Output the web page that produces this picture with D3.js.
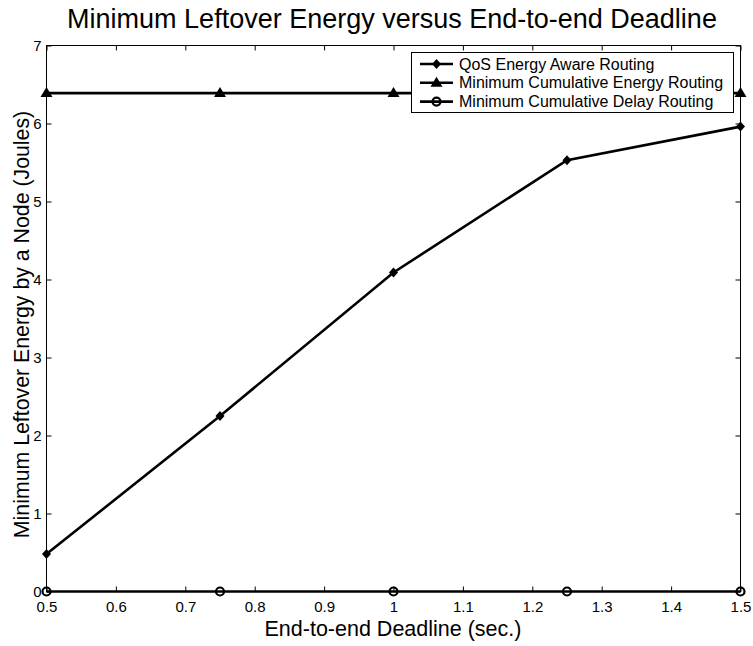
<!DOCTYPE html>
<html><head><meta charset="utf-8">
<script src="https://cdn.jsdelivr.net/npm/d3@7"></script>
<style>body{margin:0;background:#fff}svg{display:block}text{font-family:"Liberation Sans",Arial,sans-serif}</style>
</head><body>
<script>
const deadlines = [0.5, 0.75, 1.0, 1.25, 1.5];
const qosEnergy = [0.48, 2.25, 4.09, 5.53, 5.96];
const minCumEnergy = [6.39, 6.39, 6.39, 6.39, 6.39];
const minCumDelay = [0, 0, 0, 0, 0];
const xTicks = [0.5,0.6,0.7,0.8,0.9,1,1.1,1.2,1.3,1.4,1.5];
const yTicks = [0,1,2,3,4,5,6,7];
const seriesNames = ["QoS Energy Aware Routing","Minimum Cumulative Energy Routing","Minimum Cumulative Delay Routing"];
const markers = ["diamond","triangle","circle"];

const W=753,H=646;
const L=46.5,R=740.5,T=45.5,B=591.5;
const svg=d3.select("body").append("svg").attr("width",W).attr("height",H);
const x=d3.scaleLinear().domain([0.5,1.5]).range([L,R]);
const y=d3.scaleLinear().domain([0,7]).range([B,T]);

svg.append("rect").attr("x",L).attr("y",T).attr("width",R-L).attr("height",B-T).attr("fill","#fff").attr("stroke","#000").attr("stroke-width",1);

const tl=5;
const fmt=d=>String(d);
const ax1=svg.append("g").attr("transform",`translate(0,${B})`).call(d3.axisBottom(x).tickValues(xTicks).tickFormat(fmt).tickSizeInner(-tl).tickSizeOuter(0).tickPadding(10));
const ax2=svg.append("g").attr("transform",`translate(0,${T})`).call(d3.axisTop(x).tickValues(xTicks).tickFormat("").tickSizeInner(-tl).tickSizeOuter(0));
const ay1=svg.append("g").attr("transform",`translate(${L},0)`).call(d3.axisLeft(y).tickValues(yTicks).tickFormat(fmt).tickSizeInner(-tl).tickSizeOuter(0).tickPadding(5));
const ay2=svg.append("g").attr("transform",`translate(${R},0)`).call(d3.axisRight(y).tickValues(yTicks).tickFormat("").tickSizeInner(-tl).tickSizeOuter(0));
[ax1,ax2,ay1,ay2].forEach(a=>{a.select(".domain").remove();a.selectAll("line").attr("stroke","#000");a.selectAll("text").attr("font-size",15).attr("fill","#000").attr("font-family","Liberation Sans, Arial, sans-serif");});

const line=d3.line().x((d,i)=>x(deadlines[i])).y(d=>y(d));
const sets=[qosEnergy,minCumEnergy,minCumDelay];
function marker(g,type,cx,cy){
  if(type==="diamond") g.append("path").attr("d",`M${cx},${cy-5}L${cx+4.5},${cy}L${cx},${cy+5}L${cx-4.5},${cy}Z`).attr("fill","#000");
  else if(type==="triangle") g.append("path").attr("d",`M${cx},${cy-6}L${cx+6},${cy+4}L${cx-6},${cy+4}Z`).attr("fill","#000");
  else g.append("circle").attr("cx",cx).attr("cy",cy).attr("r",4).attr("fill","none").attr("stroke","#000").attr("stroke-width",2.2);
}
sets.forEach((s,k)=>{
  svg.append("path").datum(s).attr("d",line).attr("fill","none").attr("stroke","#000").attr("stroke-width",2.6);
  const g=svg.append("g");
  s.forEach((v,i)=>marker(g,markers[k],x(deadlines[i]),y(v)));
});

// legend
const lg=svg.append("g");
lg.append("rect").attr("x",411.5).attr("y",52.5).attr("width",322).attr("height",60).attr("fill","#fff").attr("stroke","#000");
seriesNames.forEach((n,k)=>{
  const yy=64+k*18.8;
  lg.append("line").attr("x1",420).attr("x2",453).attr("y1",yy).attr("y2",yy).attr("stroke","#000").attr("stroke-width",2.6);
  marker(lg,markers[k],436.5,yy);
  lg.append("text").attr("x",459).attr("y",yy+5.5).attr("font-size",16).text(n);
});

svg.append("text").attr("x",392).attr("y",28).attr("text-anchor","middle").attr("font-size",27).text("Minimum Leftover Energy versus End-to-end Deadline");
svg.append("text").attr("x",393).attr("y",636).attr("text-anchor","middle").attr("font-size",21.5).text("End-to-end Deadline (sec.)");
svg.append("text").attr("transform",`translate(28.5,324.5) rotate(-90)`).attr("text-anchor","middle").attr("font-size",21.3).text("Minimum Leftover Energy by a Node (Joules)");
</script>
</body></html>
